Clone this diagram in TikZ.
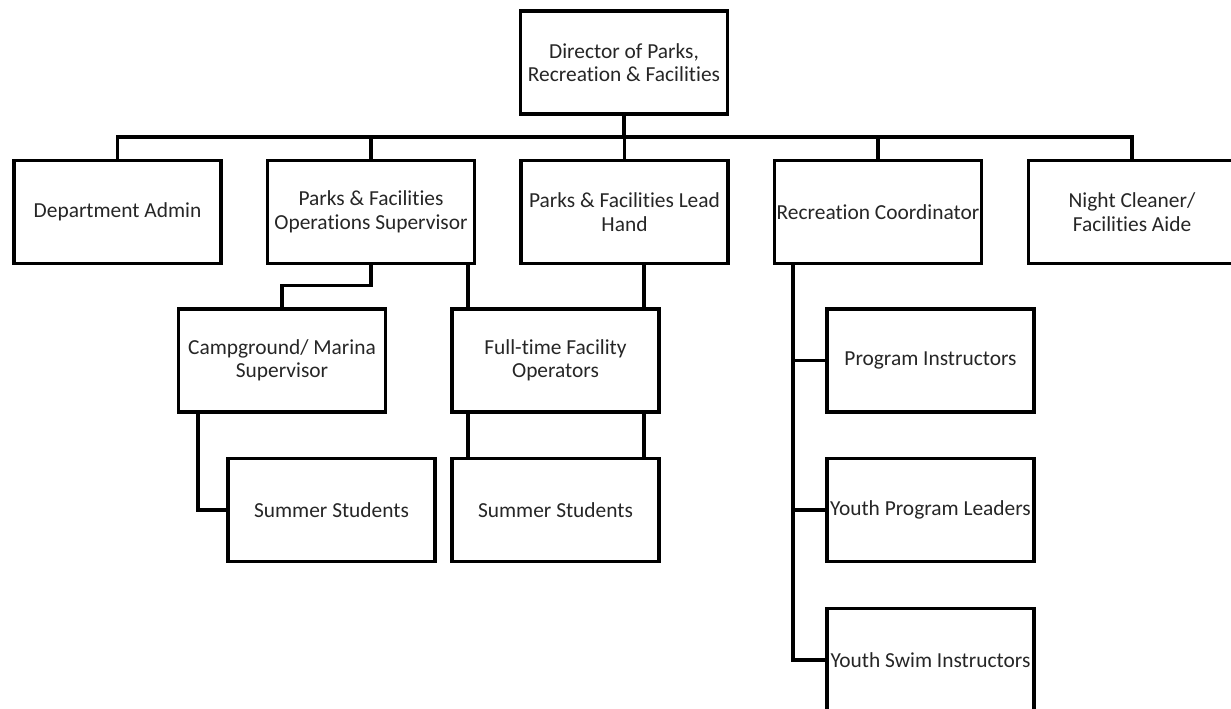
\documentclass[tikz,border=0pt]{standalone}
\usepackage{fontspec}
\setmainfont[Ligatures=NoCommon]{Carlito}
\begin{document}
\begin{tikzpicture}[x=1pt,y=-1pt,
  box/.style={draw=black, line width=3.8pt, fill=white, rectangle, outer sep=0pt, inner sep=0pt,
    minimum width=207pt, minimum height=103pt, align=center,
    font=\fontsize{21.4}{23.5}\selectfont, text=black!85},
  conn/.style={draw=black, line width=3.8pt, line cap=rect}]
\useasboundingbox (0,0) rectangle (1231,709);
\fill[white] (0,0) rectangle (1231,709);
\clip (0,0) rectangle (1231,709);
% nodes
\node[box] (dir) at (624,62.5) {Director of Parks,\\Recreation \& Facilities};
\node[box] (adm) at (117.5,212) {Department Admin};
\node[box] (ops) at (371,212) {Parks \& Facilities\\Operations Supervisor};
\node[box] (lead) at (624.5,212) {Parks \& Facilities Lead\\Hand};
\node[box] (rec) at (878,212) {Recreation Coordinator};
\node[box] (night) at (1132,212) {Night Cleaner/\\Facilities Aide};
\node[box] (camp) at (282,360.5) {Campground/ Marina\\Supervisor};
\node[box] (ft) at (555.5,360.5) {Full-time Facility\\Operators};
\node[box] (sl) at (331.5,510) {Summer Students};
\node[box] (sr) at (555.5,510) {Summer Students};
\node[box] (pi) at (930.5,360.5) {Program Instructors};
\node[box] (ypl) at (930.5,510) {Youth Program Leaders};
\node[box] (ysi) at (930.5,660) {Youth Swim Instructors};
% bar
\coordinate (barL) at (117.5,137);
\coordinate (barR) at (1132,137);
\coordinate (barM) at (624,137);
\draw[conn] (barL) -- (barR);
\draw[conn] (dir.south) -- (barM);
\foreach \n in {adm,ops,lead,rec,night}{
  \draw[conn] (\n.north |- barM) -- (\n.north);
}
% ops to campground
\draw[conn] (ops.south) -- ++(0,22) -| (camp.north);
% ops to full-time
\draw[conn] ([xshift=-6.5pt]ops.south east) -- ([xshift=-6.5pt]ops.south east |- ft.north);
% lead to full-time
\draw[conn] ([xshift=19.5pt]lead.south) -- ([xshift=19.5pt]lead.south |- ft.north);
% full-time to summer right
\draw[conn] ([xshift=-87.5pt]ft.south) -- ([xshift=-87.5pt]ft.south |- sr.north);
\draw[conn] ([xshift=88.5pt]ft.south) -- ([xshift=88.5pt]ft.south |- sr.north);
% campground to summer left
\draw[conn] ([xshift=-84pt]camp.south) |- (sl.west);
% rec to its reports
\coordinate (rv) at ([xshift=-85pt]rec.south);
\draw[conn] (rv) |- (ysi.west);
\draw[conn] (rv |- pi.west) -- (pi.west);
\draw[conn] (rv |- ypl.west) -- (ypl.west);
\end{tikzpicture}
\end{document}
